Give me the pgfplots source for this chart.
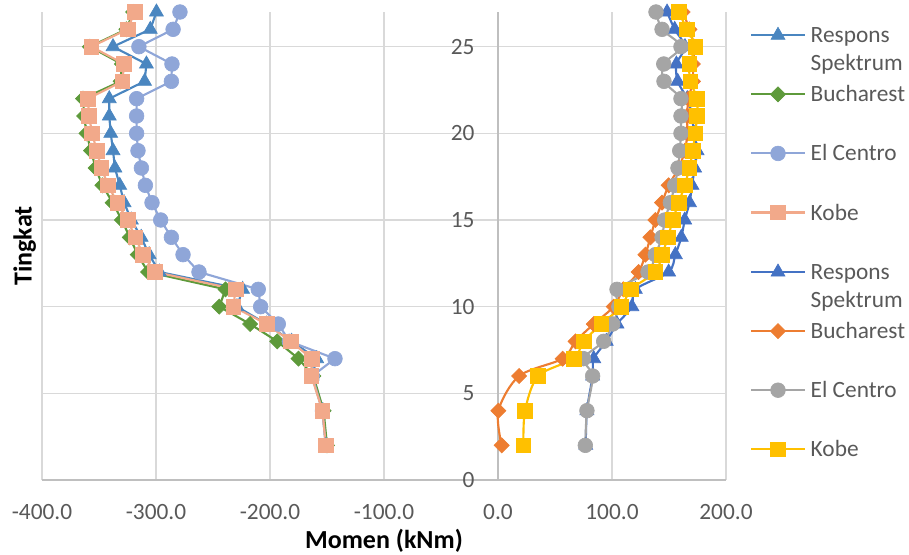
\documentclass[border=0pt]{standalone}
\usepackage{pgfplots}
\pgfplotsset{compat=1.18}
\usepackage{fontspec}
\setmainfont{Carlito}
\definecolor{lRS}{HTML}{4A86C0}
\definecolor{lBU}{HTML}{5E9A3B}
\definecolor{lEC}{HTML}{8FA6D8}
\definecolor{lKO}{HTML}{F2A98A}
\definecolor{rRS}{HTML}{4472C4}
\definecolor{rBU}{HTML}{ED7D31}
\definecolor{rEC}{HTML}{A5A5A5}
\definecolor{rKO}{HTML}{FFC000}
\definecolor{gridc}{HTML}{D9D9D9}
\definecolor{axisc}{HTML}{BFBFBF}
\definecolor{txt}{HTML}{595959}
\begin{document}
\begin{tikzpicture}
\path[use as bounding box] (-31.5pt,-55.5pt) rectangle (650.25pt,360pt);
\begin{axis}[
  at={(0,0)}, anchor=south west,
  scale only axis, width=513pt, height=351pt,
  xmin=-400, xmax=200, ymin=0, ymax=27,
  axis x line=bottom, axis y line=middle,
  axis line style={-, draw=axisc, line width=1.2pt},
  hide obscured x ticks=false, hide obscured y ticks=false,
  xtick={-400,-300,-200,-100,0,100,200},
  ytick={0,5,10,15,20,25},
  major tick length=0pt,
  grid=major, grid style={draw=gridc, line width=1.2pt},
  xticklabel style={font=\fontsize{17.5}{21}\selectfont, text=txt, anchor=north, inner sep=0pt, yshift=-18pt,
    /pgf/number format/.cd, fixed, fixed zerofill, precision=1, assume math mode=true},
  yticklabel style={font=\fontsize{17.5}{21}\selectfont, text=txt, anchor=east, inner sep=0pt, xshift=-17.5pt,
    /pgf/number format/assume math mode=true},
  xlabel={Momen (kNm)}, ylabel={Tingkat},
  every axis x label/.style={at={(rel axis cs:0.5,0)}, anchor=center, yshift=-45.75pt, font=\bfseries\fontsize{19.5}{23}\selectfont},
  every axis y label/.style={at={([xshift=-13pt]rel axis cs:0,0.5)}, anchor=center, rotate=90, font=\bfseries\fontsize{19.5}{23}\selectfont},
  legend cell align=left,
  legend style={draw=none, fill=none, at={(1.0351,0.5085)}, anchor=west, inner sep=0pt,
    font=\fontsize{17.5}{21}\selectfont, text=txt, row sep=33pt, column sep=3.75pt,
    nodes={inner sep=0pt, text height=11.3pt, text depth=0pt}},
  legend image code/.code={\draw[mark repeat=2, mark phase=2] plot coordinates {(0pt,0pt) (20pt,0pt) (40pt,0pt)};},
  every axis plot/.append style={line width=1.6pt},
]
% left panel
\addplot[color=lRS, mark=triangle*, mark size=6pt, mark options={solid, fill=lRS, draw=lRS, line width=0.5pt}] coordinates {
(-151,2)(-154,4)(-163,6)(-159,7)(-181,8)(-203,9)(-229,10)(-224,11)(-297,12)(-306,13)(-313,14)(-321.6,15)(-328,16)(-331.8,17)(-336,18)(-337.7,19)(-339.7,20)(-341,21)(-341,22)(-310,23)(-308.4,24)(-337.7,25)(-305,26)(-299.6,27)};
\addlegendentry{\smash{\begin{tabular}[t]{@{}l@{}}Respons\\[-0.3pt]Spektrum\end{tabular}}}
\addplot[color=lBU, mark=square*, mark size=4pt, mark options={solid, rotate=45, fill=lBU, draw=lBU, line width=0.5pt}] coordinates {
(-150,2)(-153,4)(-162,6)(-175,7)(-193.7,8)(-217.5,9)(-244.5,10)(-239,11)(-307,12)(-316,13)(-323,14)(-330,15)(-338,16)(-347,17)(-353,18)(-357,19)(-361,20)(-363,21)(-364,22)(-331,23)(-330,24)(-358,25)(-326,26)(-320,27)};
\addlegendentry{Bucharest}
\addplot[color=lEC, mark=*, mark size=5.5pt, mark options={solid, fill=lEC, draw=lEC, line width=0.5pt}] coordinates {
(-151,2)(-154,4)(-163,6)(-143,7)(-183,8)(-192.7,9)(-208.2,10)(-210.3,11)(-262.3,12)(-276.3,13)(-286.5,14)(-295.9,15)(-303.5,16)(-309.3,17)(-312.8,18)(-315.8,19)(-317,20)(-317,21)(-317,22)(-286.5,23)(-286,24)(-315,25)(-285,26)(-279,27)};
\addlegendentry{El Centro}
\addplot[color=lKO, mark=square*, mark size=5.5pt, mark options={solid, fill=lKO, draw=lKO, line width=0.5pt}] coordinates {
(-151.1,2)(-154,4)(-163.7,6)(-163.5,7)(-181.7,8)(-203,9)(-232.3,10)(-230,11)(-301,12)(-311.4,13)(-318,14)(-325,15)(-334,16)(-342,17)(-348,18)(-352,19)(-356,20)(-358.8,21)(-359.6,22)(-329.5,23)(-328,24)(-356.7,25)(-325,26)(-318.7,27)};
\addlegendentry{Kobe}
% right panel
\addplot[color=rRS, smooth, mark=triangle*, mark size=6pt, mark options={solid, fill=rRS, draw=rRS, line width=0.5pt}] coordinates {
(77,2)(78,4)(83,6)(84,7)(95,8)(104.4,9)(117.5,10)(120.5,11)(149.7,12)(155.6,13)(160.8,14)(163.8,15)(168,16)(170.2,17)(172.5,18)(174.6,19)(172,20)(170,21)(166,22)(157.6,23)(156.5,24)(164,25)(155,26)(148.3,27)};
\addlegendentry{\smash{\begin{tabular}[t]{@{}l@{}}Respons\\[-0.3pt]Spektrum\end{tabular}}}
\addplot[color=rBU, smooth, mark=square*, mark size=4pt, mark options={solid, rotate=45, fill=rBU, draw=rBU, line width=0.5pt}] coordinates {
(3.2,2)(0.3,4)(18.5,6)(56.7,7)(68,8)(84,9)(101.5,10)(110,11)(123.4,12)(129.3,13)(133.7,14)(138.1,15)(143.9,16)(149.7,17)(158.5,18)(164,19)(166,20)(166,21)(167,22)(171,23)(171,24)(172,25)(168,26)(162,27)};
\addlegendentry{Bucharest}
\addplot[color=rEC, smooth, mark=*, mark size=5.5pt, mark options={solid, fill=rEC, draw=rEC, line width=0.5pt}] coordinates {
(76.6,2)(78,4)(83,6)(75,7)(92.7,8)(100.6,9)(106,10)(104.4,11)(131.6,12)(138,13)(143.9,14)(146.2,15)(151.2,16)(155,17)(157.9,18)(159.4,19)(160.5,20)(160.5,21)(160.5,22)(145.6,23)(145.4,24)(160.5,25)(143.9,26)(138.6,27)};
\addlegendentry{El Centro}
\addplot[color=rKO, smooth, mark=square*, mark size=5.5pt, mark options={solid, fill=rKO, draw=rKO, line width=0.5pt}] coordinates {
(22.3,2)(23.7,4)(35.2,6)(66.3,7)(75.2,8)(90.7,9)(108.2,10)(116.7,11)(138,12)(143.9,13)(149.1,14)(153.3,15)(158.5,16)(163.8,17)(167.9,18)(170.8,19)(173,20)(174.6,21)(174.6,22)(168.8,23)(167.9,24)(173,25)(165.8,26)(158.5,27)};
\addlegendentry{Kobe}
\end{axis}
\end{tikzpicture}
\end{document}
